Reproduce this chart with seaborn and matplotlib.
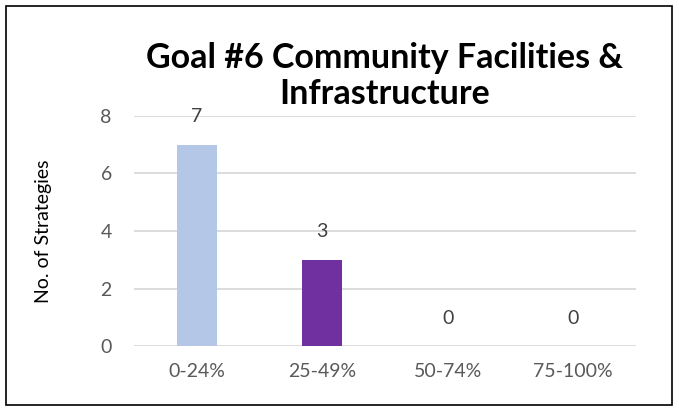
import matplotlib
matplotlib.use("Agg")
import matplotlib.pyplot as plt
import seaborn as sns
import pandas as pd
from matplotlib.patches import Rectangle

categories = ["0-24%", "25-49%", "50-74%", "75-100%"]
values = [7, 3, 0, 0]
colors = ["#B4C7E7", "#7030A0", "#A5A5A5", "#FFC000"]
title = "Goal #6 Community Facilities &\nInfrastructure"
ylabel = "No. of Strategies"

sns.set_theme(style="white")
plt.rcParams["font.family"] = ["Lato", "DejaVu Sans"]

df = pd.DataFrame({"cat": categories, "val": values})

fig = plt.figure(figsize=(6.79, 4.11), dpi=100)
ax = fig.add_axes([134/679, 1-346/411, 502/679, 230/411])
sns.barplot(data=df, x="cat", y="val", hue="cat", palette=colors, order=categories,
            hue_order=categories, width=0.32, legend=False, ax=ax, saturation=1,
            linewidth=0)
ax.set_ylim(0, 8)
ax.set_xlim(-0.5, 3.5)
ax.set_yticks([0, 2, 4, 6, 8])
ax.grid(axis="y", color="#D9D9D9", linewidth=1.3)
ax.set_axisbelow(True)
for s in ax.spines.values():
    s.set_visible(False)
ax.tick_params(axis="both", length=0, labelsize=14, labelcolor="#595959")
ax.tick_params(axis="x", pad=12)
ax.tick_params(axis="y", pad=16)
ax.set_xlabel("")
ax.set_ylabel(ylabel, fontsize=14, color="#000000", labelpad=35)

for i, v in enumerate(values):
    ax.annotate(str(v), (i, v), xytext=(0, 20), textcoords="offset points",
                ha="center", va="center", fontsize=14, color="#404040")

fig.text(385/679, 1-76/411, title, ha="center", va="center", fontsize=24.5,
         fontweight="bold", color="#000000", linespacing=1.12)

fig.patches.append(Rectangle((6/679, 6/411), 666/679, 399/411, transform=fig.transFigure,
                             fill=False, edgecolor="black", linewidth=1.2))

fig.savefig("out.png", dpi=100)
